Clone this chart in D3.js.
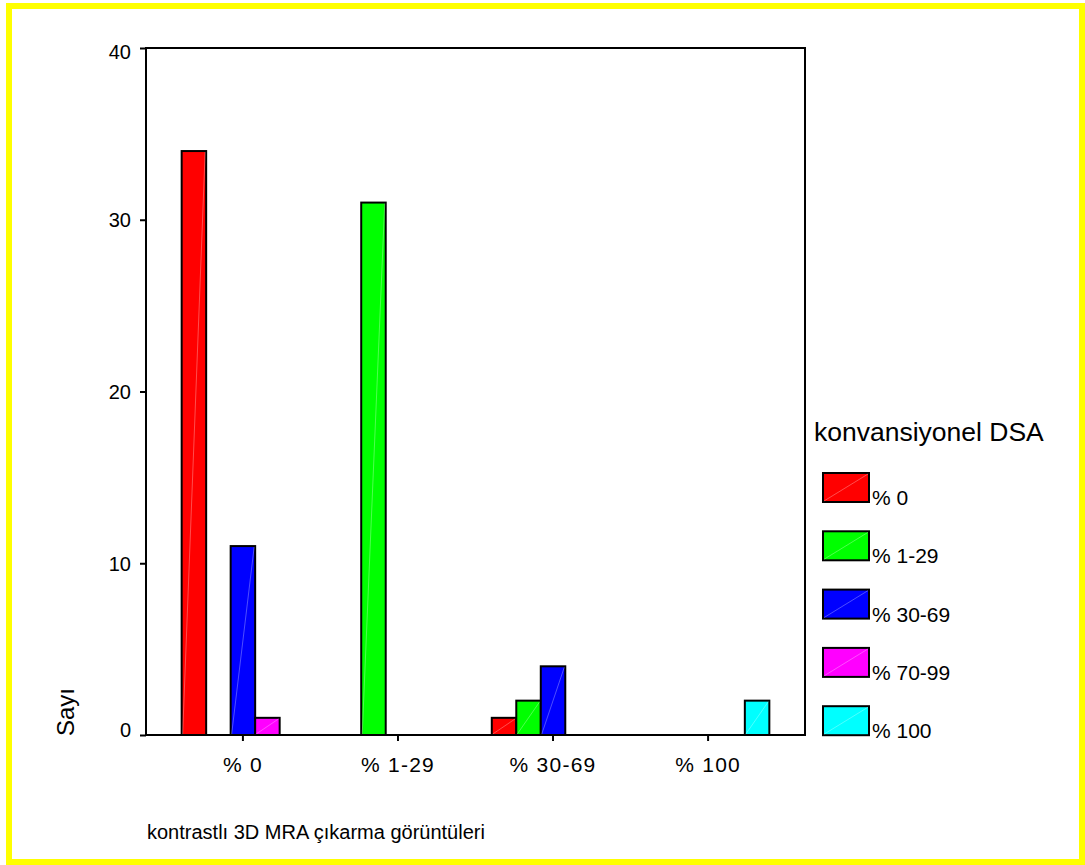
<!DOCTYPE html>
<html>
<head>
<meta charset="utf-8">
<script src="https://cdn.jsdelivr.net/npm/d3@7/dist/d3.min.js"></script>
<style>
  html, body { margin: 0; padding: 0; background: #fff; }
  svg { display: block; }
  text { font-family: "Liberation Sans", Arial, sans-serif; fill: #000; }
</style>
</head>
<body>
<svg id="chart" width="1085" height="865"></svg>
<script>
// Categories on the x axis (contrast 3D MRA subtraction images)
const categories = ["% 0", "% 1-29", "% 30-69", "% 100"];
// Series: conventional DSA grades
const seriesNames = ["% 0", "% 1-29", "% 30-69", "% 70-99", "% 100"];
const seriesColors = ["#ff0000", "#00ff00", "#0000ff", "#ff00ff", "#00ffff"];
// Counts per series, one value per category
const dsa0 = [34, 0, 1, 0];
const dsa1_29 = [0, 31, 2, 0];
const dsa30_69 = [11, 0, 4, 0];
const dsa70_99 = [1, 0, 0, 0];
const dsa100 = [0, 0, 0, 2];
const yTicks = [0, 10, 20, 30, 40];

const seriesValues = [dsa0, dsa1_29, dsa30_69, dsa70_99, dsa100];

const svg = d3.select("#chart");
const W = 1085, H = 865;

// Outer yellow frame
svg.append("rect")
  .attr("x", 9).attr("y", 6)
  .attr("width", W - 9 - 3).attr("height", H - 6 - 3)
  .attr("fill", "none").attr("stroke", "#ffff00").attr("stroke-width", 6);

const plot = { left: 146, right: 805, top: 48, bottom: 735 };

const x0 = d3.scaleBand()
  .domain(categories)
  .range([plot.left, plot.right])
  .paddingInner(0.21)
  .paddingOuter(0.23);

const x1 = d3.scaleBand()
  .domain(seriesNames)
  .range([0, x0.bandwidth()]);

const y = d3.scaleLinear().domain([0, 40]).range([plot.bottom, plot.top]);

const color = d3.scaleOrdinal().domain(seriesNames).range(seriesColors);

// Flatten data into bars, skipping empty cells
const bars = [];
categories.forEach((c, ci) => {
  seriesNames.forEach((s, si) => {
    const v = seriesValues[si][ci];
    if (v > 0) bars.push({ cat: c, series: s, value: v });
  });
});

const g = svg.append("g");

const barG = g.selectAll("g.bar").data(bars).join("g").attr("class", "bar");
barG.append("rect")
  .attr("x", d => x0(d.cat) + x1(d.series))
  .attr("y", d => y(d.value))
  .attr("width", x1.bandwidth())
  .attr("height", d => y(0) - y(d.value))
  .attr("fill", d => color(d.series))
  .attr("stroke", "#000")
  .attr("stroke-width", 2);
// faint diagonal stroke inside each bar
barG.append("line")
  .attr("x1", d => x0(d.cat) + x1(d.series) + 1)
  .attr("y1", y(0) - 1)
  .attr("x2", d => x0(d.cat) + x1(d.series) + x1.bandwidth() - 1)
  .attr("y2", d => y(d.value) + 1)
  .attr("stroke", "#fff").attr("stroke-opacity", 0.3).attr("stroke-width", 1);

// Plot frame
g.append("rect")
  .attr("x", plot.left).attr("y", plot.top)
  .attr("width", plot.right - plot.left).attr("height", plot.bottom - plot.top)
  .attr("fill", "none").attr("stroke", "#000").attr("stroke-width", 2);

// Y axis
const yAxis = d3.axisLeft(y).tickValues(yTicks).tickSize(6).tickPadding(9);
const yg = g.append("g").attr("transform", `translate(${plot.left},0)`).call(yAxis);
yg.select(".domain").remove();
yg.selectAll(".tick line").attr("stroke", "#000").attr("stroke-width", 2);
yg.selectAll(".tick text")
  .attr("font-size", 20)
  .attr("font-family", "Liberation Sans, Arial, sans-serif")
  .attr("dy", d => d === 40 ? "0.5em" : d === 0 ? "0.05em" : "0.35em");

// X axis
const xAxis = d3.axisBottom(x0).tickSize(6).tickPadding(16);
const xg = g.append("g").attr("transform", `translate(0,${plot.bottom})`).call(xAxis);
xg.select(".domain").remove();
xg.selectAll(".tick line").attr("stroke", "#000").attr("stroke-width", 2);
xg.selectAll(".tick text")
  .attr("font-size", 21)
  .attr("font-family", "Liberation Sans, Arial, sans-serif")
  .attr("letter-spacing", "0.06em");

// Axis titles
svg.append("text")
  .attr("transform", "translate(74,736) rotate(-90)")
  .attr("font-size", 24)
  .text("Sayı");

svg.append("text")
  .attr("x", 147).attr("y", 839)
  .attr("font-size", 20)
  .text("kontrastlı 3D MRA çıkarma görüntüleri");

// Legend
const legend = svg.append("g");
legend.append("text")
  .attr("x", 814).attr("y", 441)
  .attr("font-size", 26.5)
  .text("konvansiyonel DSA");

const item = legend.selectAll("g.item").data(seriesNames).join("g")
  .attr("class", "item")
  .attr("transform", (d, i) => `translate(823,${473 + i * 58.3})`);
item.append("rect")
  .attr("width", 46).attr("height", 29)
  .attr("fill", d => color(d))
  .attr("stroke", "#000").attr("stroke-width", 2);
item.append("line")
  .attr("x1", 1).attr("y1", 28).attr("x2", 45).attr("y2", 1)
  .attr("stroke", "#fff").attr("stroke-opacity", 0.3).attr("stroke-width", 1);
item.append("text")
  .attr("x", 49).attr("y", 32)
  .attr("font-size", 21)
  .text(d => d);
</script>
</body>
</html>
